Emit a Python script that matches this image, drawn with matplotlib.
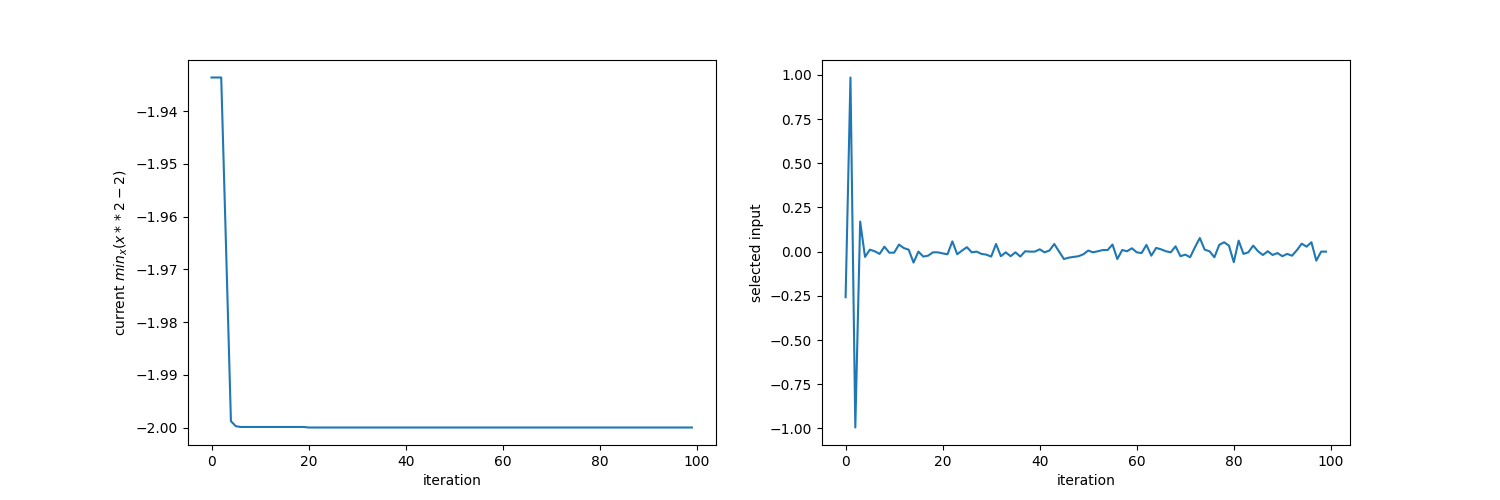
import matplotlib
matplotlib.use("Agg")
import matplotlib.pyplot as plt

iterations = list(range(100))

current_min = [
    -1.9336, -1.9336, -1.9336, -1.9660, -1.9988, -1.99975, -1.9999, -1.9999, -1.9999, -1.9999,
    -1.9999, -1.9999, -1.9999, -1.9999, -1.9999, -1.9999, -1.9999, -1.9999, -1.9999, -1.9999,
    -2.0000, -2.0000, -2.0000, -2.0000, -2.0000, -2.0000, -2.0000, -2.0000, -2.0000, -2.0000,
    -2.0000, -2.0000, -2.0000, -2.0000, -2.0000, -2.0000, -2.0000, -2.0000, -2.0000, -2.0000,
    -2.0000, -2.0000, -2.0000, -2.0000, -2.0000, -2.0000, -2.0000, -2.0000, -2.0000, -2.0000,
    -2.0000, -2.0000, -2.0000, -2.0000, -2.0000, -2.0000, -2.0000, -2.0000, -2.0000, -2.0000,
    -2.0000, -2.0000, -2.0000, -2.0000, -2.0000, -2.0000, -2.0000, -2.0000, -2.0000, -2.0000,
    -2.0000, -2.0000, -2.0000, -2.0000, -2.0000, -2.0000, -2.0000, -2.0000, -2.0000, -2.0000,
    -2.0000, -2.0000, -2.0000, -2.0000, -2.0000, -2.0000, -2.0000, -2.0000, -2.0000, -2.0000,
    -2.0000, -2.0000, -2.0000, -2.0000, -2.0000, -2.0000, -2.0000, -2.0000, -2.0000, -2.0000,
]

selected_input = [
    -0.258, 0.985, -0.995, 0.170, -0.030, 0.011, 0.002, -0.013, 0.028, -0.006,
    -0.006, 0.040, 0.020, 0.011, -0.062, 0.000, -0.028, -0.023, -0.004, -0.004,
    -0.010, -0.015, 0.058, -0.015, 0.006, 0.025, -0.004, 0.000, -0.013, -0.017,
    -0.028, 0.043, -0.026, -0.004, -0.026, -0.004, -0.028, 0.002, 0.000, 0.000,
    0.013, -0.004, 0.006, 0.043, 0.000, -0.042, -0.034, -0.030, -0.026, -0.015,
    0.006, -0.004, 0.002, 0.009, 0.009, 0.040, -0.042, 0.009, 0.002, 0.019,
    -0.004, -0.008, 0.038, -0.023, 0.021, 0.013, 0.002, -0.004, 0.030, -0.026,
    -0.017, -0.032, 0.025, 0.077, 0.011, 0.002, -0.032, 0.038, 0.053, 0.034,
    -0.060, 0.062, -0.013, -0.004, 0.034, 0.002, -0.019, 0.002, -0.019, -0.008,
    -0.026, -0.013, -0.023, 0.008, 0.045, 0.028, 0.053, -0.051, 0.000, 0.000,
]

fig, (ax1, ax2) = plt.subplots(1, 2, figsize=(15, 5), dpi=100)

ax1.plot(iterations, current_min)
ax1.set_xlabel("iteration")
ax1.set_ylabel(r"current $min_x(x**2-2)$")

ax2.plot(iterations, selected_input)
ax2.set_xlabel("iteration")
ax2.set_ylabel("selected input")

fig.savefig("out.png", dpi=100)
